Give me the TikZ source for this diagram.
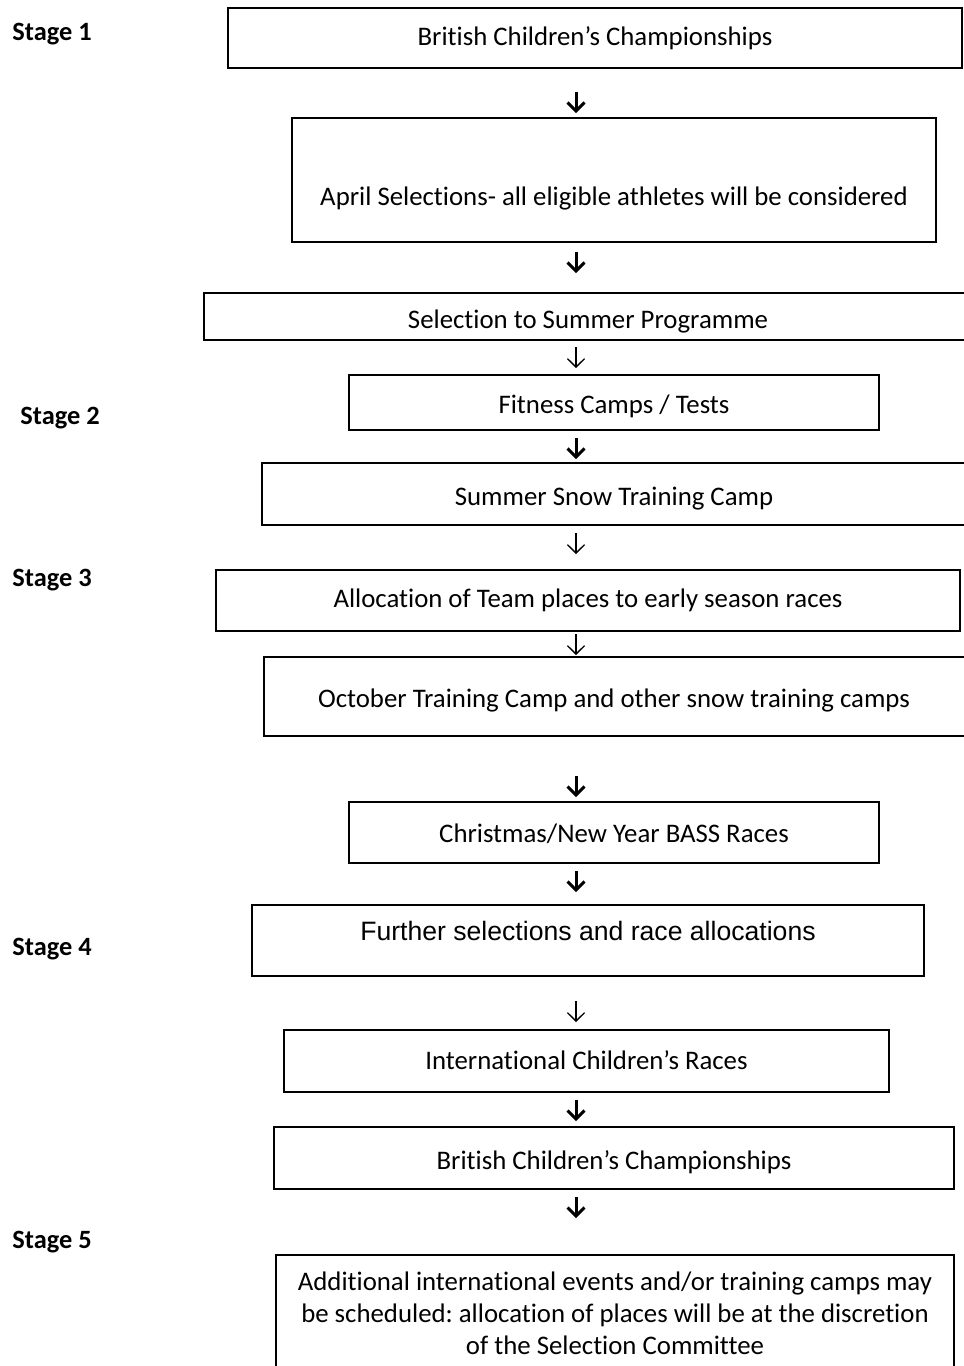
\documentclass[tikz,border=0pt]{standalone}
\usepackage{fontspec}
\setmainfont[Ligatures=CommonOff]{Carlito}
\newfontfamily\arialfont{Liberation Sans}
\usetikzlibrary{arrows.meta}
\frenchspacing
% text sits on the box centre, lowered by #1
\newcommand{\lowtext}[2]{\raisebox{-#1}[0pt][0pt]{#2}}
\tikzset{
  box/.style={draw, line width=1pt, inner sep=0pt, align=center, font=\fontsize{13.4}{16}\selectfont},
  stagelbl/.style={anchor=west, inner sep=0pt, font=\bfseries\fontsize{13.2}{15}\selectfont},
  boldarr/.style={line width=1.5pt, -{Straight Barb[length=4.2pt,width=8.5pt]}},
  thinarr/.style={line width=0.65pt, -{Straight Barb[length=4.2pt,width=8.5pt]}},
}
\begin{document}
\begin{tikzpicture}[x=0.5pt, y=-0.5pt]
 \def\px{0.5pt}
 \useasboundingbox (0,0) rectangle (964,1366);

 %stage labels
 \node[stagelbl] (s1) at (12,34) {Stage 1};
 \node[stagelbl] (s2) at (20,418) {Stage 2};
 \node[stagelbl] (s3) at (12,580) {Stage 3};
 \node[stagelbl] (s4) at (12,949) {Stage 4};
 \node[stagelbl] (s5) at (12,1242) {Stage 5};

 %boxes
 \node[box, minimum width=734*\px, minimum height=60*\px] (b1) at (595,38)
   {\lowtext{3.6pt}{British Children’s Championships}};
 \node[box, minimum width=644*\px, minimum height=124*\px] (b2) at (614,180)
   {\lowtext{12.5pt}{April Selections- all eligible athletes will be considered}};
 \node[box, minimum width=780*\px, minimum height=47*\px] (b3) at (594,316.5)
   {\lowtext{6pt}{\hspace*{-6pt}Selection to Summer Programme}};
 \node[box, minimum width=530*\px, minimum height=55*\px] (b4) at (614,402.5)
   {\lowtext{5.6pt}{Fitness Camps / Tests}};
 \node[box, minimum width=722*\px, minimum height=62*\px] (b5) at (623,494)
   {\lowtext{5.6pt}{\hspace*{-9pt}Summer Snow Training Camp}};
 \node[box, minimum width=744*\px, minimum height=61*\px] (b6) at (588,600.5)
   {\lowtext{3.6pt}{Allocation of Team places to early season races}};
 \node[box, minimum width=720*\px, minimum height=79*\px] (b7) at (624,696.5)
   {\lowtext{5.6pt}{\hspace*{-10pt}October Training Camp and other snow training camps}};
 \node[box, minimum width=530*\px, minimum height=61*\px] (b8) at (614,832.5)
   {\lowtext{4.8pt}{Christmas/New Year BASS Races}};
 \node[box, minimum width=672*\px, minimum height=71*\px] (b9) at (588,940.5)
   {\lowtext{0pt}{\arialfont\fontsize{13.3}{15}\selectfont Further selections and race allocations}};
 \node[box, minimum width=605*\px, minimum height=62*\px] (b10) at (586.5,1061)
   {\lowtext{4.3pt}{International Children’s Races}};
 \node[box, minimum width=680*\px, minimum height=62*\px] (b11) at (614,1158)
   {\lowtext{5.6pt}{British Children’s Championships}};
 \node[box, minimum width=678*\px, minimum height=130*\px] (b12) at (615,1320)
   {\lowtext{0pt}{\parbox{335pt}{\centering Additional international events and/or training camps may\\
    be scheduled: allocation of places will be at the discretion\\ of the Selection Committee}}};

 %arrows
 \foreach \name/\y/\kind in {a1/92/boldarr, a2/252/boldarr, a3/347/thinarr, a4/438/boldarr,
     a5/533/thinarr, a6/634/thinarr, a7/776/boldarr, a8/871/boldarr, a9/1001/thinarr,
     a10/1100/boldarr, a11/1197/boldarr} {
   \coordinate (\name top) at (576,\y);
   \coordinate (\name tip) at (576,\y+21);
   \draw[\kind] (\name top) -- (\name tip);
 }
\end{tikzpicture}
\end{document}
